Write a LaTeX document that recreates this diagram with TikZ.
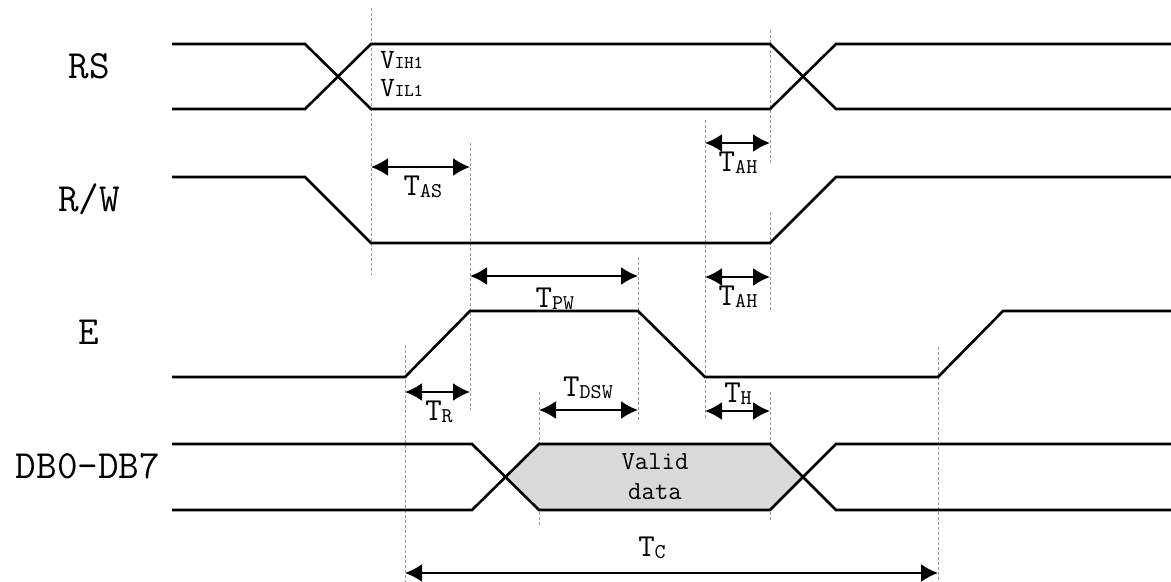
\documentclass[tikz,border=0pt]{standalone}
\usetikzlibrary{arrows.meta}
\newcommand{\tlab}[2]{{\fontsize{16}{17}\selectfont #1}\raisebox{-0.8pt}{\fontsize{10.5}{11}\selectfont #2}}
\newcommand{\vlab}[2]{{\fontsize{14}{15}\selectfont #1}{\fontsize{9}{10}\selectfont #2}}

\begin{document}
\begin{tikzpicture}[x=0.5pt,y=-0.5pt,font=\ttfamily,
  sig/.style={line width=1.3pt},
  guide/.style={gray!80,line width=0.5pt,dash pattern=on 1.5pt off 1pt},
  dim/.style={line width=1pt,{Latex[length=8.5pt,width=9pt]}-{Latex[length=8.5pt,width=9pt]}},
  sname/.style={font=\ttfamily\fontsize{20}{22}\selectfont}]
\useasboundingbox (0,0) rectangle (1171,582);

% signal names
\node (rs) at (89,66) [sname] {RS};
\node (rw) at (89,199) [sname] {R/W};
\node (e) at (89,332) [sname] {E};
\node (db) at (88,466) [sname] {DB0-DB7};

% guide lines
\draw[guide] (371,8) -- (371,275);
\draw[guide] (470,143) -- (470,410);
\draw[guide] (638,257) -- (638,422);
\draw[guide] (705,120) -- (705,420);
\draw[guide] (770,30) -- (770,163);
\draw[guide] (770,212) -- (770,312);
\draw[guide] (770,392) -- (770,520);
\draw[guide] (539,392) -- (539,527);
\draw[guide] (405,345) -- (405,582);
\draw[guide] (938,347) -- (938,582);

% valid data
\fill[black!15] (505,477) -- (539,444) -- (770,444) -- (803,477) -- (770,510) -- (539,510) -- cycle;

% RS
\draw[sig] (172,44) -- (305,44) -- (371,109) -- (770,109) -- (836,44) -- (1171,44);
\draw[sig] (172,109) -- (305,109) -- (371,44) -- (770,44) -- (836,109) -- (1171,109);
% R/W
\draw[sig] (172,177) -- (305,177) -- (371,243) -- (770,243) -- (836,177) -- (1171,177);
% E
\draw[sig] (172,377) -- (405,377) -- (470,311) -- (638,311) -- (705,377) -- (938,377) -- (1003,311) -- (1171,311);
% DB0-DB7
\draw[sig] (172,444) -- (472,444) -- (539,510) -- (770,510) -- (836,444) -- (1171,444);
\draw[sig] (172,510) -- (472,510) -- (539,444) -- (770,444) -- (836,510) -- (1171,510);

\node (vd) at (655,477) [align=center,font=\ttfamily\fontsize{13}{15}\selectfont] {Valid\\data};
\node (vih) at (380,60) [anchor=west,inner sep=0pt] {\vlab{V}{IH1}};
\node (vil) at (380,88) [anchor=west,inner sep=0pt] {\vlab{V}{IL1}};

% timing
\draw[dim] (371,167) -- (470,167);
\node (tas) at (423,187) {\tlab{T}{AS}};
\draw[dim] (705,143) -- (770,143);
\node (tah1) at (738,163) {\tlab{T}{AH}};
\draw[dim] (705,277) -- (770,277);
\node (tah2) at (738,297) {\tlab{T}{AH}};
\draw[dim] (470,276) -- (638,276);
\node (tpw) at (555,299) {\tlab{T}{PW}};
\draw[dim] (405,392) -- (470,392);
\node (tr) at (439,412) {\tlab{T}{R}};
\draw[dim] (539,410) -- (638,410);
\node (tdsw) at (588,388) {\tlab{T}{DSW}};
\draw[dim] (705,411) -- (770,411);
\node (th) at (738,394) {\tlab{T}{H}};
\draw[dim] (405,573) -- (938,573);
\node (tc) at (652,548) {\tlab{T}{C}};
\end{tikzpicture}
\end{document}
